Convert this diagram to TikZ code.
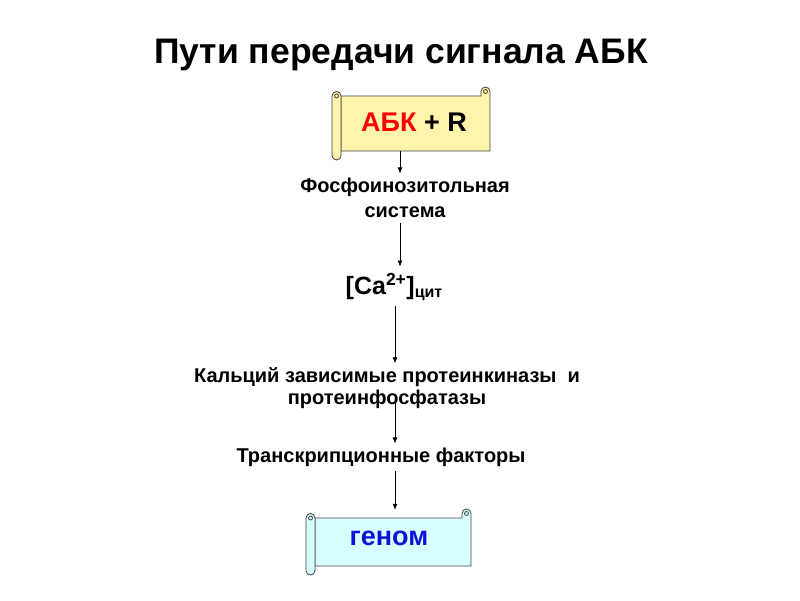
\documentclass[tikz,border=0pt]{standalone}
\usepackage{fontspec}
\setmainfont{Liberation Sans}
\usetikzlibrary{arrows.meta}
\definecolor{scrollyellow}{RGB}{255,244,172}
\definecolor{scrollcyan}{RGB}{214,255,255}
\definecolor{genomeblue}{RGB}{16,16,214}

% scroll: fill, left, bottom, right, top
\newcommand{\scrollbox}[5]{%
  \filldraw[scrollline,fill=#1] (#2+9,#5-9) -- (#4-9,#5-9) -- (#4-9,#5-4.5)
    arc[start angle=180,end angle=0,radius=4.5] -- (#4,#3+9) -- (#2+9,#3+9) -- cycle;
  \draw[scrollline] (#4-4.5,#5-4.5) circle (2);
  \filldraw[scrollline,fill=#1] (#2,#5-9) arc[start angle=180,end angle=0,radius=4.5]
    -- (#2+9,#3+4.5) arc[start angle=0,end angle=-180,radius=4.5] -- cycle;
  \draw[scrollline] (#2+4.5,#5-9) circle (2);
}

\begin{document}
\begin{tikzpicture}[x=1pt,y=1pt,
  scrollline/.style={draw=black!75,line width=0.8pt},
  body/.style={inner sep=0pt,font=\bfseries\fontsize{27}{30}\selectfont},
  step label/.style={inner sep=0pt,align=center,font=\bfseries\fontsize{20}{25}\selectfont},
  arr/.style={-{Latex[length=6pt,width=5pt]},line width=0.7pt}]
\useasboundingbox[fill=white] (0,0) rectangle (800,600);

\node[font=\bfseries\fontsize{35.5}{40}\selectfont,anchor=base] (title) at (401,536) {Пути передачи сигнала АБК};

\scrollbox{scrollyellow}{332}{440}{490}{513}
\node[body,minimum width=149pt,minimum height=55pt] (abk) at (414,477.5)
  {\textcolor{red}{АБК} + R};

\node[step label] (fos) at (405,402.5) {Фосфоинозитольная\\система};

\node[body,anchor=base,font=\bfseries\fontsize{25}{28}\selectfont] (ca) at (394,305)
  {[Ca\textsuperscript{2+}]\raisebox{-3pt}{\fontsize{16}{16}\selectfont цит}};

\node[step label,font=\bfseries\fontsize{20}{22}\selectfont] (kin) at (387,212)
  {Кальций зависимые протеинкиназы~~и\\протеинфосфатазы};

\node[step label] (tf) at (381,143) {Транскрипционные факторы};

\scrollbox{scrollcyan}{306}{25}{471}{91}
\node[body,minimum width=156pt,minimum height=48pt,text=genomeblue] (genome) at (389,62)
  {геном};

\draw[arr] ([xshift=-14pt,yshift=-1pt]abk.south) -- ([xshift=-5pt,yshift=4pt]fos.north);
\draw[arr] ([xshift=-5pt,yshift=-5pt]fos.south) -- ([xshift=6pt,yshift=7pt]ca.north);
\draw[arr] ([xshift=1pt,yshift=-5pt]ca.south) -- ([xshift=8pt,yshift=4pt]kin.north);
\draw[arr] ([xshift=8pt,yshift=8pt]kin.south) -- ([xshift=14pt,yshift=4pt]tf.north);
\draw[arr] ([xshift=14pt,yshift=-4pt]tf.south) -- ([xshift=6pt,yshift=4pt]genome.north);
\end{tikzpicture}
\end{document}
